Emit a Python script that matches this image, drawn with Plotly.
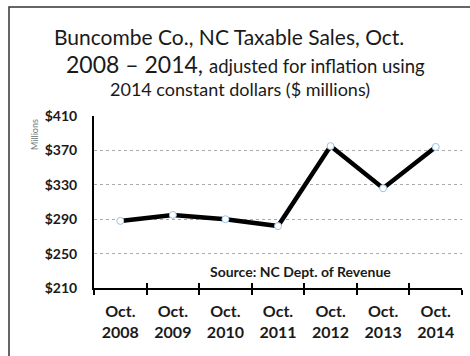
import plotly.graph_objects as go

# Taxable sales, inflation-adjusted to 2014 dollars ($ millions)
years = ["2008", "2009", "2010", "2011", "2012", "2013", "2014"]
sales = [288, 295, 290, 282, 375, 326, 374]
y_ticks = [210, 250, 290, 330, 370, 410]

categories = [f"Oct.<br>{y}" for y in years]
y_tick_text = [f"${v}" for v in y_ticks]

# plot-area geometry in pixels (used to place free text in paper units)
W, H = 470, 356
L, R, T, B = 94, 8, 116, 68
pw, ph = W - L - R, H - T - B


def px(x):
    return (x - L) / pw


def py(y):
    return (H - B - y) / ph


FONT = "Lato"

fig = go.Figure()
fig.add_trace(go.Scatter(
    x=categories, y=sales, mode="lines+markers",
    line=dict(color="black", width=4.5),
    marker=dict(size=7, color="white", line=dict(color="#9dc3e6", width=1)),
    hoverinfo="x+y", showlegend=False,
))
# second copy on an overlaid axis carries the inward half of the crossing ticks
fig.add_trace(go.Scatter(
    x=categories, y=sales, mode="none", xaxis="x2",
    hoverinfo="skip", showlegend=False,
))

fig.update_layout(
    width=W, height=H,
    margin=dict(l=L, r=R, t=T, b=B),
    paper_bgcolor="white", plot_bgcolor="white",
    font=dict(family=FONT, color="black"),
    xaxis=dict(
        type="category", tickson="boundaries", ticks="outside",
        ticklen=5, tickwidth=1.5, tickcolor="black",
        showline=True, linecolor="black", linewidth=2,
        showgrid=False, range=[-0.5, 6.5], ticklabelstandoff=8,
        tickfont=dict(family=FONT, size=16, color="#1a1a1a", weight="bold"),
    ),
    xaxis2=dict(
        type="category", overlaying="x", anchor="y", side="bottom",
        tickson="boundaries", ticks="inside", ticklen=5, tickwidth=1.5,
        tickcolor="black", showticklabels=False, showgrid=False,
        showline=False, range=[-0.5, 6.5],
    ),
    yaxis=dict(
        range=[210, 410], tickmode="array", tickvals=y_ticks,
        ticktext=y_tick_text,
        showline=True, linecolor="black", linewidth=2,
        showgrid=True, gridcolor="#aaaaaa", gridwidth=1, griddash="dot",
        zeroline=False, ticks="", ticklabelstandoff=12,
        tickfont=dict(family=FONT, size=14, color="#1a1a1a", weight="bold"),
    ),
)

annotations = [
    dict(text="Buncombe Co., NC Taxable Sales, Oct.", x=px(229), y=py(36),
         font=dict(size=21, color="#1a1a1a")),
    dict(text="2008 \u2013 2014, <span style='font-size:18.5px'>adjusted for inflation using</span>",
         x=px(245), y=py(64), font=dict(size=23, color="#1a1a1a")),
    dict(text="2014 constant dollars ($ millions)", x=px(240), y=py(89),
         font=dict(size=18, color="#1a1a1a")),
    dict(text="Millions", x=px(34), y=py(135), textangle=-90,
         font=dict(size=9, color="#777777")),
    dict(text="<b>Source: NC Dept. of Revenue</b>", x=px(300), y=py(271),
         font=dict(size=14, color="#1a1a1a")),
]
for a in annotations:
    fig.add_annotation(xref="paper", yref="paper", showarrow=False,
                       xanchor="center", yanchor="middle", **a)

# chart frame (left and top edges visible)
fig.add_shape(type="rect", xref="paper", yref="paper",
              x0=px(9), x1=px(480), y0=py(370), y1=py(7),
              line=dict(color="#333333", width=1.5), layer="below")

fig.write_html("out.html")
